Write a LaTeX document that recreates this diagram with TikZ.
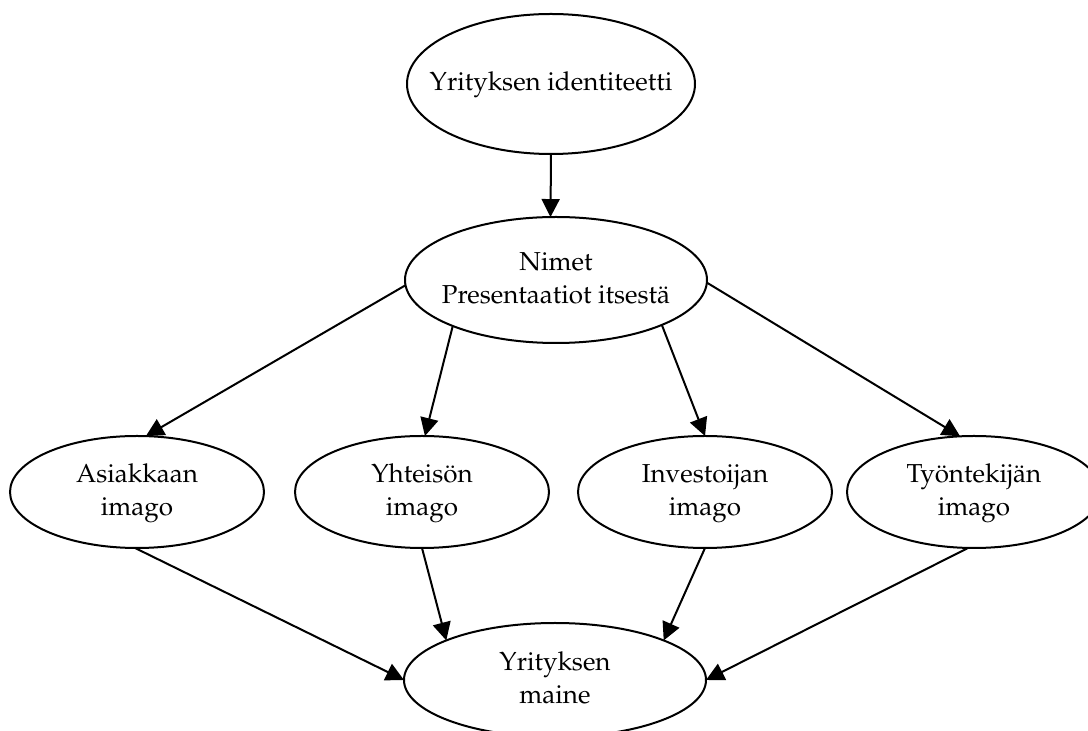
\documentclass[tikz,border=0pt]{standalone}
\usepackage[T1]{fontenc}
\usepackage{mathpazo}
\usetikzlibrary{shapes.geometric,arrows.meta}
\newcommand{\lbl}[1]{\makebox[0pt][c]{\begin{tabular}{@{}c@{}}#1\end{tabular}}}
\begin{document}
\begin{tikzpicture}[x=0.5pt,y=-0.5pt,
  ell/.style={draw,ellipse,line width=1pt,inner sep=0pt,outer sep=0pt,
    font=\fontsize{13}{16.5}\selectfont},
  arr/.style={line width=1pt,-{Triangle[length=9pt,width=9pt]}}]
\useasboundingbox (0,0) rectangle (1088,731);
\clip (0,0) rectangle (1088,731);
\node[ell,minimum width=144pt,minimum height=70pt] (top) at (551,84) {\lbl{Yrityksen identiteetti}};
\node[ell,minimum width=151pt,minimum height=63pt] (mid) at (556,280) {\lbl{Nimet\\Presentaatiot itsestä}};
\node[ell,minimum width=127pt,minimum height=56pt] (a) at (137,492) {\lbl{Asiakkaan\\imago}};
\node[ell,minimum width=127pt,minimum height=56pt] (y) at (422,492) {\lbl{Yhteisön\\imago}};
\node[ell,minimum width=127pt,minimum height=56pt] (i) at (705,492) {\lbl{Investoijan\\imago}};
\node[ell,minimum width=127pt,minimum height=56pt] (t) at (974,492) {\lbl{Työntekijän\\imago}};
\node[ell,minimum width=151pt,minimum height=57pt] (m) at (555,680) {\lbl{Yrityksen\\maine}};
\draw[arr] (top.south) -- (mid.95);
\draw[arr] (mid.182) -- (a.81);
\draw[arr] (mid.204) -- (y.87);
\draw[arr] (mid.337) -- (i.90);
\draw[arr] (mid.359) -- (t.104);
\draw[arr] (a.268) -- (m.180);
\draw[arr] (y.270) -- (m.160);
\draw[arr] (i.270) -- (m.20);
\draw[arr] (t.264) -- (m.0);
\end{tikzpicture}
\end{document}
